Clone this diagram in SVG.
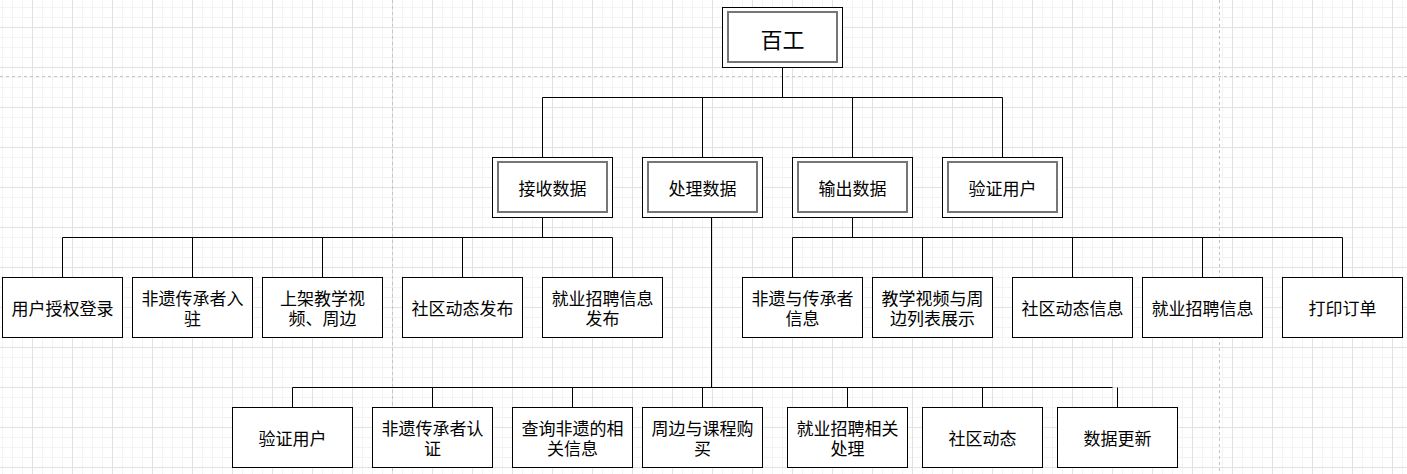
<svg xmlns="http://www.w3.org/2000/svg" width="1407" height="474" viewBox="0 0 1407 474">
  <defs>
    <!-- 10px minor grid with a 40px major grid -->
    <pattern id="grid" x="2" y="7" width="40" height="40" patternUnits="userSpaceOnUse">
      <path d="M0.5 0V40M10.5 0V40M20.5 0V40M0 0.5H40M0 10.5H40M0 30.5H40" stroke="#f3f3f3" stroke-width="1" fill="none"/>
      <path d="M30.5 0V40M0 20.5H40" stroke="#e2e2e2" stroke-width="1" fill="none"/>
    </pattern>
    <style>
      .box { fill: #ffffff; stroke: #000000; stroke-width: 1; }
      .inner { fill: none; stroke: #767676; stroke-width: 2; }
      .lbl { font-family: "Noto Sans CJK SC", "Noto Sans", sans-serif; font-size: 17px; fill: #000000; text-anchor: middle; dominant-baseline: central; }
      .title { font-size: 22px; }
      .edge { fill: none; stroke: #000000; stroke-width: 1; }
      .page { fill: none; stroke: #c4c4c4; stroke-width: 1; stroke-dasharray: 3 3; }
    </style>
  </defs>

  <!-- canvas -->
  <rect x="0" y="0" width="1407" height="474" fill="#ffffff"/>
  <rect x="0" y="0" width="1407" height="474" fill="url(#grid)"/>

  <!-- page breaks -->
  <g id="page-breaks">
    <path class="page" d="M0 76.5H1407"/>
    <path class="page" d="M392.5 0V474"/>
    <path class="page" d="M1219.5 0V474"/>
  </g>

  <!-- connectors -->
  <g id="connectors">
    <path class="edge" d="M782.5 67.5V97.5H542.5V157.5"/>
    <path class="edge" d="M782.5 67.5V97.5H702.5V157.5"/>
    <path class="edge" d="M782.5 67.5V97.5H852.5V157.5"/>
    <path class="edge" d="M782.5 67.5V97.5H1002.5V157.5"/>

    <path class="edge" d="M542.5 217.5V237.5H62.5V277.5"/>
    <path class="edge" d="M542.5 217.5V237.5H192.5V277.5"/>
    <path class="edge" d="M542.5 217.5V237.5H322.5V277.5"/>
    <path class="edge" d="M542.5 217.5V237.5H462.5V277.5"/>
    <path class="edge" d="M542.5 217.5V237.5H612.5V277.5"/>

    <path class="edge" d="M852.5 217.5V237.5H792.5V277.5"/>
    <path class="edge" d="M852.5 217.5V237.5H922.5V277.5"/>
    <path class="edge" d="M852.5 217.5V237.5H1072.5V277.5"/>
    <path class="edge" d="M852.5 217.5V237.5H1202.5V277.5"/>
    <path class="edge" d="M852.5 217.5V237.5H1342.5V277.5"/>

    <path class="edge" d="M711.5 217.5V387.5H292.5V407.5"/>
    <path class="edge" d="M711.5 217.5V387.5H432.5V407.5"/>
    <path class="edge" d="M711.5 217.5V387.5H572.5V407.5"/>
    <path class="edge" d="M711.5 217.5V387.5H702.5V407.5"/>
    <path class="edge" d="M711.5 217.5V387.5H847.5V407.5"/>
    <path class="edge" d="M711.5 217.5V387.5H982.5V407.5"/>
    <path class="edge" d="M711.5 217.5V387.5H1112.5M1117.5 387.5V407.5"/>
  </g>

  <!-- root -->
  <g id="n-root">
    <rect class="box" x="722.5" y="7.5" width="120" height="60"/>
    <rect class="inner" x="728" y="12" width="109" height="50"/>
    <text class="lbl title" x="782.5" y="37.5">百工</text>
  </g>

  <!-- second level -->
  <g id="n-receive">
    <rect class="box" x="492.5" y="157.5" width="120" height="60"/>
    <rect class="inner" x="498" y="162" width="109" height="50"/>
    <text class="lbl" x="552.5" y="187.5">接收数据</text>
  </g>
  <g id="n-process">
    <rect class="box" x="642.5" y="157.5" width="120" height="60"/>
    <rect class="inner" x="648" y="162" width="109" height="50"/>
    <text class="lbl" x="702.5" y="187.5">处理数据</text>
  </g>
  <g id="n-output">
    <rect class="box" x="792.5" y="157.5" width="120" height="60"/>
    <rect class="inner" x="798" y="162" width="109" height="50"/>
    <text class="lbl" x="852.5" y="187.5">输出数据</text>
  </g>
  <g id="n-verify">
    <rect class="box" x="942.5" y="157.5" width="120" height="60"/>
    <rect class="inner" x="948" y="162" width="109" height="50"/>
    <text class="lbl" x="1002.5" y="187.5">验证用户</text>
  </g>

  <!-- receive branch -->
  <g id="n-login">
    <rect class="box" x="2.5" y="277.5" width="120" height="60"/>
    <text class="lbl" x="62.5" y="307.5">用户授权登录</text>
  </g>
  <g id="n-settle">
    <rect class="box" x="132.5" y="277.5" width="120" height="60"/>
    <text class="lbl" x="192.5" y="297.5">非遗传承者入</text>
    <text class="lbl" x="192.5" y="317.5">驻</text>
  </g>
  <g id="n-upload">
    <rect class="box" x="262.5" y="277.5" width="120" height="60"/>
    <text class="lbl" x="322.5" y="297.5">上架教学视</text>
    <text class="lbl" x="322.5" y="317.5">频、周边</text>
  </g>
  <g id="n-post">
    <rect class="box" x="402.5" y="277.5" width="120" height="60"/>
    <text class="lbl" x="462.5" y="307.5">社区动态发布</text>
  </g>
  <g id="n-jobpost">
    <rect class="box" x="542.5" y="277.5" width="120" height="60"/>
    <text class="lbl" x="602.5" y="297.5">就业招聘信息</text>
    <text class="lbl" x="602.5" y="317.5">发布</text>
  </g>

  <!-- output branch -->
  <g id="n-heritage-info">
    <rect class="box" x="742.5" y="277.5" width="120" height="60"/>
    <text class="lbl" x="802.5" y="297.5">非遗与传承者</text>
    <text class="lbl" x="802.5" y="317.5">信息</text>
  </g>
  <g id="n-video-list">
    <rect class="box" x="872.5" y="277.5" width="120" height="60"/>
    <text class="lbl" x="932.5" y="297.5">教学视频与周</text>
    <text class="lbl" x="932.5" y="317.5">边列表展示</text>
  </g>
  <g id="n-feed-info">
    <rect class="box" x="1012.5" y="277.5" width="120" height="60"/>
    <text class="lbl" x="1072.5" y="307.5">社区动态信息</text>
  </g>
  <g id="n-job-info">
    <rect class="box" x="1142.5" y="277.5" width="120" height="60"/>
    <text class="lbl" x="1202.5" y="307.5">就业招聘信息</text>
  </g>
  <g id="n-print">
    <rect class="box" x="1282.5" y="277.5" width="120" height="60"/>
    <text class="lbl" x="1342.5" y="307.5">打印订单</text>
  </g>

  <!-- process branch -->
  <g id="n-p-verify">
    <rect class="box" x="232.5" y="407.5" width="120" height="60"/>
    <text class="lbl" x="292.5" y="437.5">验证用户</text>
  </g>
  <g id="n-p-certify">
    <rect class="box" x="372.5" y="407.5" width="120" height="60"/>
    <text class="lbl" x="432.5" y="427.5">非遗传承者认</text>
    <text class="lbl" x="432.5" y="447.5">证</text>
  </g>
  <g id="n-p-query">
    <rect class="box" x="512.5" y="407.5" width="120" height="60"/>
    <text class="lbl" x="572.5" y="427.5">查询非遗的相</text>
    <text class="lbl" x="572.5" y="447.5">关信息</text>
  </g>
  <g id="n-p-buy">
    <rect class="box" x="642.5" y="407.5" width="120" height="60"/>
    <text class="lbl" x="702.5" y="427.5">周边与课程购</text>
    <text class="lbl" x="702.5" y="447.5">买</text>
  </g>
  <g id="n-p-jobs">
    <rect class="box" x="787.5" y="407.5" width="120" height="60"/>
    <text class="lbl" x="847.5" y="427.5">就业招聘相关</text>
    <text class="lbl" x="847.5" y="447.5">处理</text>
  </g>
  <g id="n-p-feed">
    <rect class="box" x="922.5" y="407.5" width="120" height="60"/>
    <text class="lbl" x="982.5" y="437.5">社区动态</text>
  </g>
  <g id="n-p-update">
    <rect class="box" x="1057.5" y="407.5" width="120" height="60"/>
    <text class="lbl" x="1117.5" y="437.5">数据更新</text>
  </g>
</svg>
